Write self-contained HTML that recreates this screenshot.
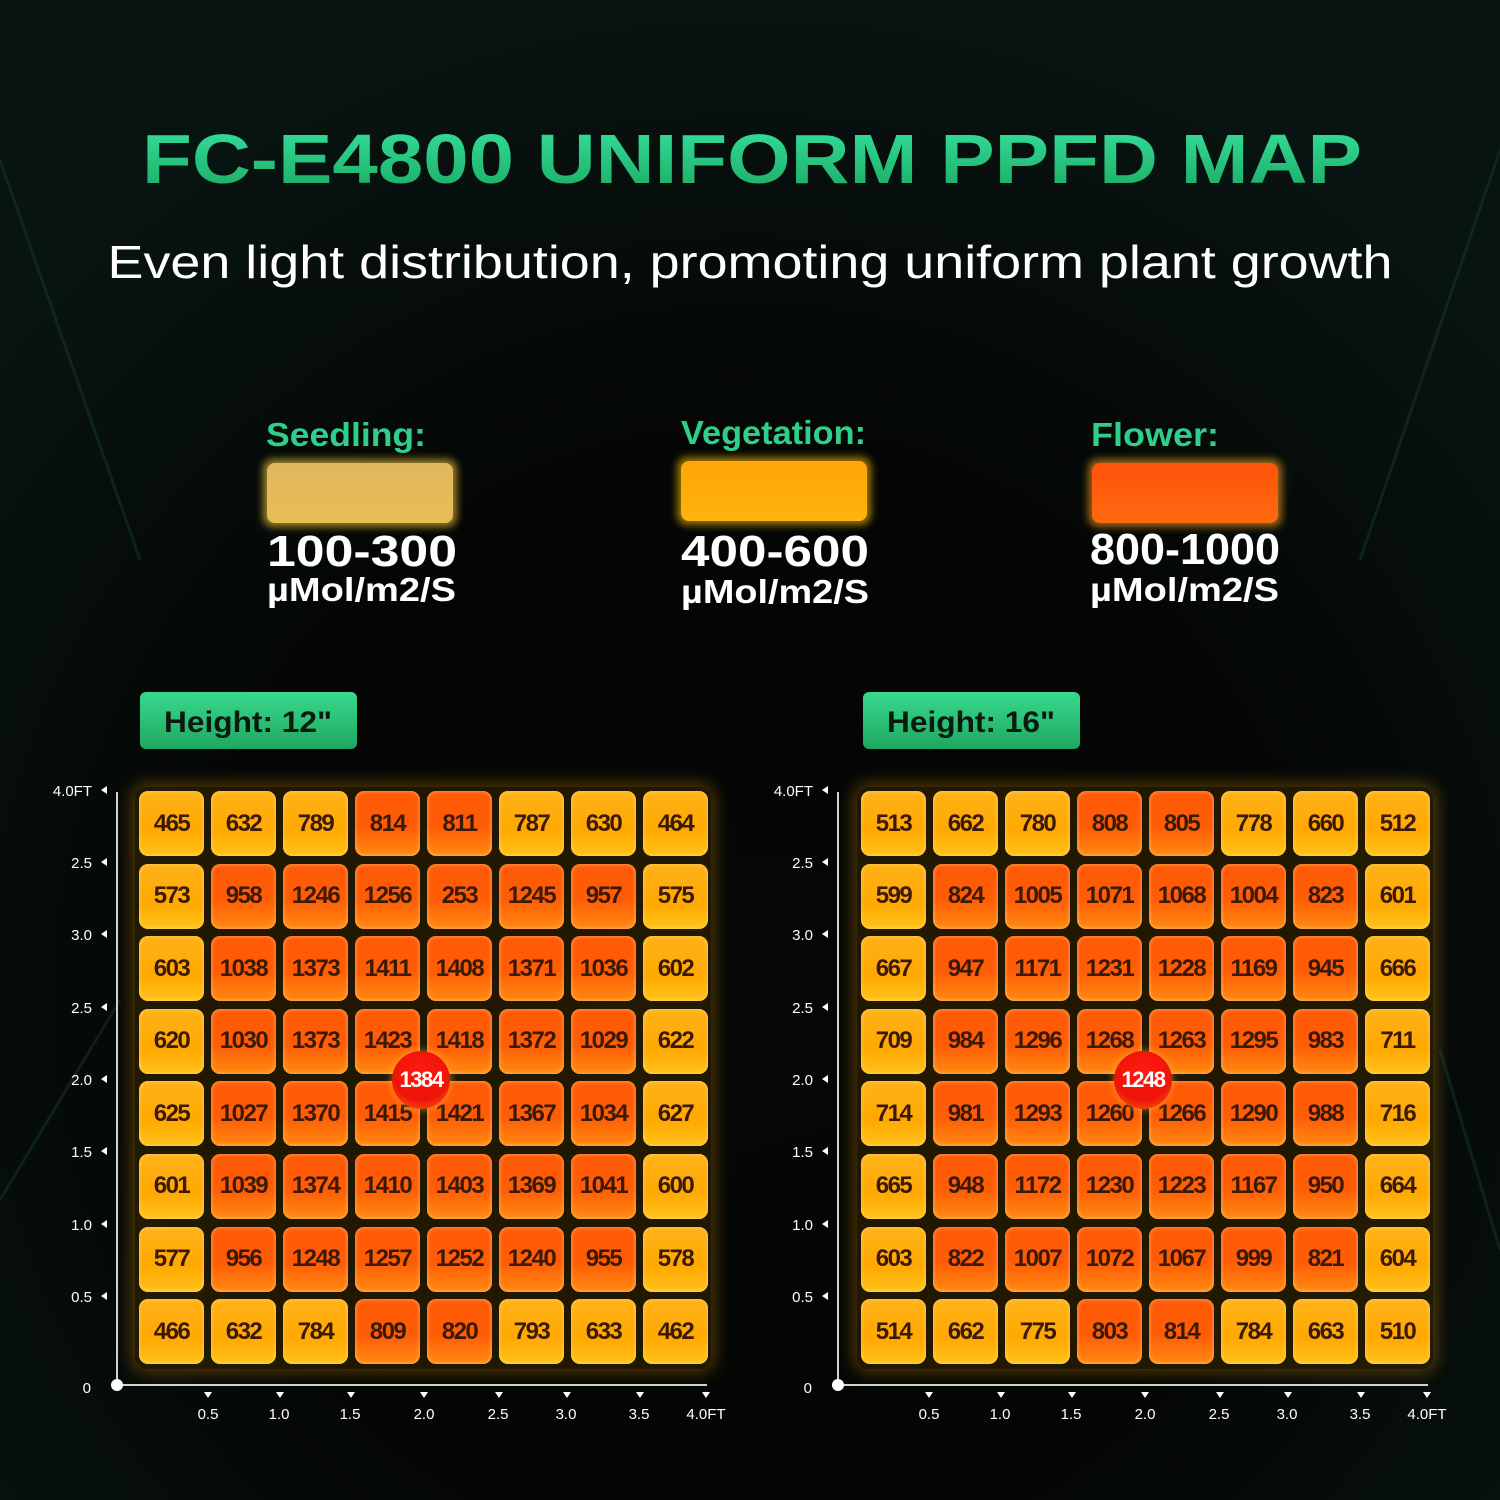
<!DOCTYPE html>
<html><head><meta charset="utf-8"><style>
*{margin:0;padding:0;box-sizing:border-box}
body{width:1500px;height:1500px;overflow:hidden;background:#030504;position:relative;font-family:"Liberation Sans",sans-serif}
.bg{position:absolute;inset:0;background:radial-gradient(ellipse 1000px 1000px at 750px 1000px,#050706 0%,#040605 55%,#081411 100%)}
svg{position:absolute;left:0;top:0}
.grid{position:absolute;top:791px;display:grid;grid-template-columns:repeat(8,65px);grid-auto-rows:65px;column-gap:7px;row-gap:7.6px;padding:0}
.gbg{position:absolute;top:787px;width:576px;height:582px;background:rgba(60,40,0,.55);border-radius:12px;box-shadow:0 0 16px 4px rgba(255,170,0,.3)}
.grid span{border-radius:9px;background:linear-gradient(180deg,#ffb21a 0%,#ffa800 60%,#ffc21c 100%);display:flex;align-items:center;justify-content:center;font-weight:bold;font-size:24px;letter-spacing:-1.5px;color:#3b1a05;box-shadow:inset 0 0 4px rgba(255,240,160,.6)}
.grid span.o{background:linear-gradient(180deg,#ff5a08 0%,#ff5c06 55%,#ff8a12 100%)}
.dot{position:absolute;width:58px;height:58px;border-radius:50%;background:radial-gradient(circle at 50% 35%,#ff1a10 0%,#ee1408 60%,#ff6a10 100%);color:#fff;font-weight:bold;font-size:22px;letter-spacing:-1.5px;display:flex;align-items:center;justify-content:center;box-shadow:0 0 8px rgba(255,200,60,.6)}
</style></head><body>
<div class="bg"></div>
<svg width="1500" height="1500">
<defs>
<linearGradient id="tg" x1="0" y1="0" x2="0" y2="1"><stop offset="0" stop-color="#36e3a0"/><stop offset="1" stop-color="#1aa860"/></linearGradient>
<linearGradient id="bt" x1="0" y1="0" x2="0" y2="1"><stop offset="0" stop-color="#39d98e"/><stop offset="1" stop-color="#1ea760"/></linearGradient>
<linearGradient id="b1" x1="0" y1="0" x2="0" y2="1"><stop offset="0" stop-color="#e2b85e"/><stop offset="1" stop-color="#e8bc55"/></linearGradient>
<linearGradient id="b2" x1="0" y1="0" x2="0" y2="1"><stop offset="0" stop-color="#ffa508"/><stop offset="1" stop-color="#ffb30c"/></linearGradient>
<linearGradient id="b3" x1="0" y1="0" x2="0" y2="1"><stop offset="0" stop-color="#ff520a"/><stop offset="1" stop-color="#ff6a10"/></linearGradient>
<filter id="gl"><feGaussianBlur stdDeviation="4"/></filter>
</defs>
<g stroke="#1c4a3e" stroke-width="3" opacity=".35"><line x1="0" y1="160" x2="140" y2="560"/><line x1="1500" y1="150" x2="1360" y2="560"/><line x1="0" y1="1200" x2="120" y2="1000"/><line x1="1500" y1="1250" x2="1440" y2="1050"/></g>
<text x="752" y="183" text-anchor="middle" font-size="70" font-weight="bold" fill="url(#tg)" textLength="1220" lengthAdjust="spacingAndGlyphs">FC-E4800 UNIFORM PPFD MAP</text>
<text x="750" y="278" text-anchor="middle" font-size="46" fill="#fff" textLength="1285" lengthAdjust="spacingAndGlyphs">Even light distribution, promoting uniform plant growth</text>
<g font-weight="bold" fill="#2fcf8a" font-size="33">
<text x="266" y="446" textLength="160" lengthAdjust="spacingAndGlyphs">Seedling:</text>
<text x="681" y="444" textLength="185" lengthAdjust="spacingAndGlyphs">Vegetation:</text>
<text x="1091" y="446" textLength="128" lengthAdjust="spacingAndGlyphs">Flower:</text>
</g>
<rect x="263" y="459" width="194" height="68" rx="10" fill="#ffd040" opacity=".6" filter="url(#gl)"/>
<rect x="267" y="463" width="186" height="60" rx="8" fill="url(#b1)"/>
<rect x="677" y="457" width="194" height="68" rx="10" fill="#ffc000" opacity=".6" filter="url(#gl)"/>
<rect x="681" y="461" width="186" height="60" rx="8" fill="url(#b2)"/>
<rect x="1088" y="459" width="194" height="68" rx="10" fill="#ffa020" opacity=".6" filter="url(#gl)"/>
<rect x="1092" y="463" width="186" height="60" rx="8" fill="url(#b3)"/>
<g font-weight="bold" fill="#fff">
<text x="267" y="566" font-size="44" textLength="190" lengthAdjust="spacingAndGlyphs">100-300</text>
<text x="681" y="566" font-size="44" textLength="188" lengthAdjust="spacingAndGlyphs">400-600</text>
<text x="1090" y="564" font-size="44" textLength="190" lengthAdjust="spacingAndGlyphs">800-1000</text>
<text x="267" y="601" font-size="33" textLength="189" lengthAdjust="spacingAndGlyphs">µMol/m2/S</text>
<text x="681" y="603" font-size="33" textLength="188" lengthAdjust="spacingAndGlyphs">µMol/m2/S</text>
<text x="1090" y="601" font-size="33" textLength="189" lengthAdjust="spacingAndGlyphs">µMol/m2/S</text>
</g>
<rect x="140" y="692" width="217" height="57" rx="6" fill="url(#bt)"/>
<rect x="863" y="692" width="217" height="57" rx="6" fill="url(#bt)"/>
<g font-weight="bold" font-size="30" fill="#0a1a10">
<text x="248" y="732" text-anchor="middle" textLength="168" lengthAdjust="spacingAndGlyphs">Height: 12"</text>
<text x="971" y="732" text-anchor="middle" textLength="168" lengthAdjust="spacingAndGlyphs">Height: 16"</text>
</g>
<g id="ax" fill="#fff" font-size="15">
<line x1="117" y1="792" x2="117" y2="1385" stroke="#cfd4d2" stroke-width="2"/>
<line x1="117" y1="1385" x2="707" y2="1385" stroke="#cfd4d2" stroke-width="2"/>
<circle cx="117" cy="1385" r="6"/>
<g text-anchor="end"><text x="92" y="796">4.0FT</text><text x="92" y="868">2.5</text><text x="92" y="940">3.0</text><text x="92" y="1013">2.5</text><text x="92" y="1085">2.0</text><text x="92" y="1157">1.5</text><text x="92" y="1230">1.0</text><text x="92" y="1302">0.5</text><text x="91" y="1393">0</text></g>
<g><path d="M101 790l6-4v8zM101 862l6-4v8zM101 934l6-4v8zM101 1007l6-4v8zM101 1079l6-4v8zM101 1151l6-4v8zM101 1224l6-4v8zM101 1296l6-4v8z"/></g>
<g><path d="M204 1392h8l-4 6zM276 1392h8l-4 6zM347 1392h8l-4 6zM420 1392h8l-4 6zM495 1392h8l-4 6zM563 1392h8l-4 6zM636 1392h8l-4 6zM702 1392h8l-4 6z"/></g>
<g text-anchor="middle"><text x="208" y="1419">0.5</text><text x="279" y="1419">1.0</text><text x="350" y="1419">1.5</text><text x="424" y="1419">2.0</text><text x="498" y="1419">2.5</text><text x="566" y="1419">3.0</text><text x="639" y="1419">3.5</text><text x="706" y="1419">4.0FT</text></g>
</g>
<use href="#ax" x="721"/>
</svg>
<div class="gbg" style="left:135px"></div>
<div class="gbg" style="left:857px"></div>
<div class="grid" style="left:139px">
<span>465</span><span>632</span><span>789</span><span class="o">814</span><span class="o">811</span><span>787</span><span>630</span><span>464</span>
<span>573</span><span class="o">958</span><span class="o">1246</span><span class="o">1256</span><span class="o">253</span><span class="o">1245</span><span class="o">957</span><span>575</span>
<span>603</span><span class="o">1038</span><span class="o">1373</span><span class="o">1411</span><span class="o">1408</span><span class="o">1371</span><span class="o">1036</span><span>602</span>
<span>620</span><span class="o">1030</span><span class="o">1373</span><span class="o">1423</span><span class="o">1418</span><span class="o">1372</span><span class="o">1029</span><span>622</span>
<span>625</span><span class="o">1027</span><span class="o">1370</span><span class="o">1415</span><span class="o">1421</span><span class="o">1367</span><span class="o">1034</span><span>627</span>
<span>601</span><span class="o">1039</span><span class="o">1374</span><span class="o">1410</span><span class="o">1403</span><span class="o">1369</span><span class="o">1041</span><span>600</span>
<span>577</span><span class="o">956</span><span class="o">1248</span><span class="o">1257</span><span class="o">1252</span><span class="o">1240</span><span class="o">955</span><span>578</span>
<span>466</span><span>632</span><span>784</span><span class="o">809</span><span class="o">820</span><span>793</span><span>633</span><span>462</span>
</div>
<div class="grid" style="left:861px">
<span>513</span><span>662</span><span>780</span><span class="o">808</span><span class="o">805</span><span>778</span><span>660</span><span>512</span>
<span>599</span><span class="o">824</span><span class="o">1005</span><span class="o">1071</span><span class="o">1068</span><span class="o">1004</span><span class="o">823</span><span>601</span>
<span>667</span><span class="o">947</span><span class="o">1171</span><span class="o">1231</span><span class="o">1228</span><span class="o">1169</span><span class="o">945</span><span>666</span>
<span>709</span><span class="o">984</span><span class="o">1296</span><span class="o">1268</span><span class="o">1263</span><span class="o">1295</span><span class="o">983</span><span>711</span>
<span>714</span><span class="o">981</span><span class="o">1293</span><span class="o">1260</span><span class="o">1266</span><span class="o">1290</span><span class="o">988</span><span>716</span>
<span>665</span><span class="o">948</span><span class="o">1172</span><span class="o">1230</span><span class="o">1223</span><span class="o">1167</span><span class="o">950</span><span>664</span>
<span>603</span><span class="o">822</span><span class="o">1007</span><span class="o">1072</span><span class="o">1067</span><span class="o">999</span><span class="o">821</span><span>604</span>
<span>514</span><span>662</span><span>775</span><span class="o">803</span><span class="o">814</span><span>784</span><span>663</span><span>510</span>
</div>
<div class="dot" style="left:392px;top:1051px">1384</div>
<div class="dot" style="left:1114px;top:1051px">1248</div>
</body></html>
